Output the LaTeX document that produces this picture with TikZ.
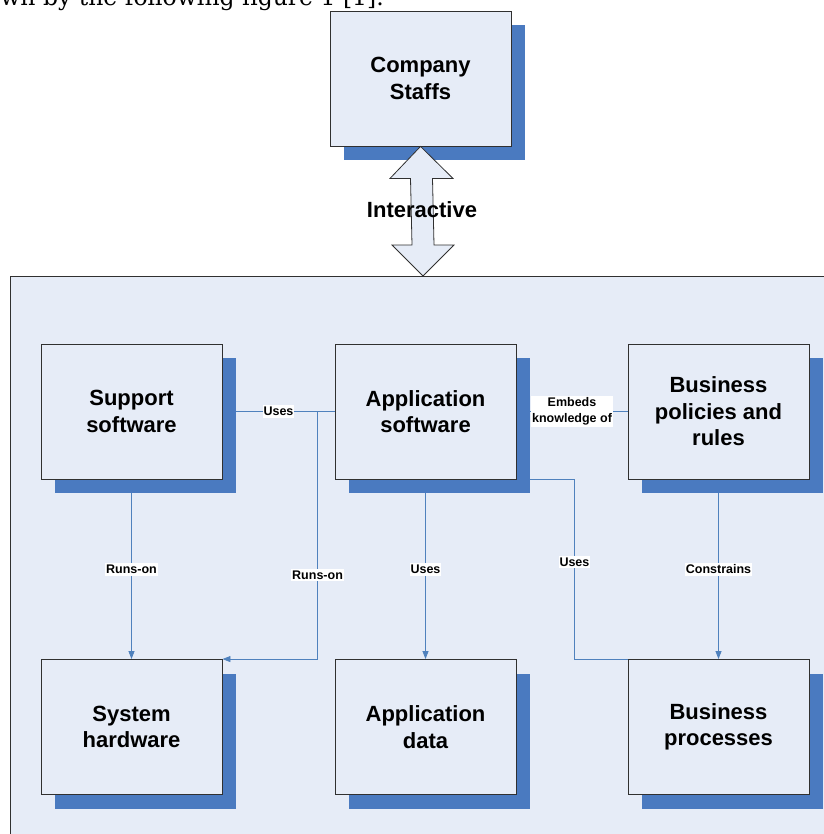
\documentclass[tikz,border=0pt]{standalone}
\usepackage{fontspec}
\setmainfont{DejaVu Serif}
\newfontfamily\boxfont{Liberation Sans}
\usetikzlibrary{shadows,calc,arrows.meta}
\definecolor{panel}{HTML}{E6ECF7}
\definecolor{shade}{HTML}{4A7AC0}
\definecolor{link}{HTML}{4F81BD}
\definecolor{edge}{HTML}{303030}
\pgfdeclarelayer{back}
\pgfdeclarelayer{wires}
\pgfsetlayers{back,wires,main}
\begin{document}
\begin{tikzpicture}[x=1pt,y=-1pt,
  block/.style={draw=edge, line width=0.9pt, fill=panel,
    minimum width=181pt, minimum height=135pt, inner sep=0pt, align=center,
    font=\boxfont\bfseries\fontsize{22}{26.5}\selectfont,
    general shadow={fill=shade, shadow xshift=14pt, shadow yshift=-14pt}},
  conn/.style={draw=link, line width=0.8pt},
  tip/.style={-{Triangle[length=8pt,width=6pt]}},
  tag/.style={fill=white, inner xsep=1pt, inner ysep=2pt, text=black, align=center,
    font=\boxfont\bfseries\fontsize{12.5}{16}\selectfont},
  bigword/.style={font=\boxfont\bfseries\fontsize{22}{26.5}\selectfont}]
\clip (0,0) rectangle (823,834);

% running text of the page above the figure
\node[anchor=base east, inner sep=0pt, font=\fontsize{23.5}{26}\selectfont] (caption)
  at (384,5.5) {shown by the following figure 1 [1].};

% the enterprise system panel
\begin{pgfonlayer}{back}
  \node[draw=edge, line width=0.9pt, fill=panel, anchor=north west,
        minimum width=840pt, minimum height=600pt, inner sep=0pt] (platform) at (10,276) {};
\end{pgfonlayer}

% people
\node[block] (staff) at (420.5,78.5) {Company\\Staffs};

% system elements
\node[block] (sup)  at (131.5,411.5) {Support\\software};
\node[block] (app)  at (425.5,411.5) {Application\\software};
\node[block] (pol)  at (718.5,411.5) {Business\\policies and\\rules};
\node[block] (hw)   at (131.5,727)   {System\\hardware};
\node[block] (dat)  at (425.5,727)   {Application\\data};
\node[block] (proc) at (718.5,727)   {Business\\processes};

% two-headed arrow between staff and the system
\coordinate (ta) at (staff.south);
\coordinate (tb) at ($(staff.south |- platform.north)+(2.5,0)$);
\draw[draw=edge, line width=0.8pt, fill=panel]
  (ta) -- ($(ta)+(32.5,32)$) -- ($(ta)+(12,32)$) -- ($(tb)+(11,-31)$) -- ($(tb)+(31,-31)$)
  -- (tb) -- ($(tb)+(-31,-31)$) -- ($(tb)+(-11,-31)$) -- ($(ta)+(-10,32)$) -- ($(ta)+(-30.5,32)$) -- cycle;
\node[bigword] (inter) at (422,210) {Interactive};

% relations
\begin{pgfonlayer}{wires}
  \draw[conn] (sup.east) -- node[tag] (l1) {Uses} (app.west);
  \draw[conn] (app.east) -- node[tag] (l2) {Embeds\\knowledge of} (pol.west);
  \draw[conn,tip] (sup.south) -- node[tag] (l3) {Runs-on} (hw.north);
  \draw[conn,tip] (app.south) -- node[tag] (l4) {Uses} (dat.north);
  \draw[conn,tip] (pol.south) -- node[tag] (l5) {Constrains} (proc.north);
  \draw[conn,tip] ($(app.west)+(-17,0)$) |- node[tag,pos=0.33] (l6) {Runs-on} (hw.north east);
  \draw[conn] (app.south east) -- ($(app.south east)+(58,0)$) |- node[tag,pos=0.23] (l7) {Uses} (proc.north west);
\end{pgfonlayer}
\end{tikzpicture}
\end{document}
